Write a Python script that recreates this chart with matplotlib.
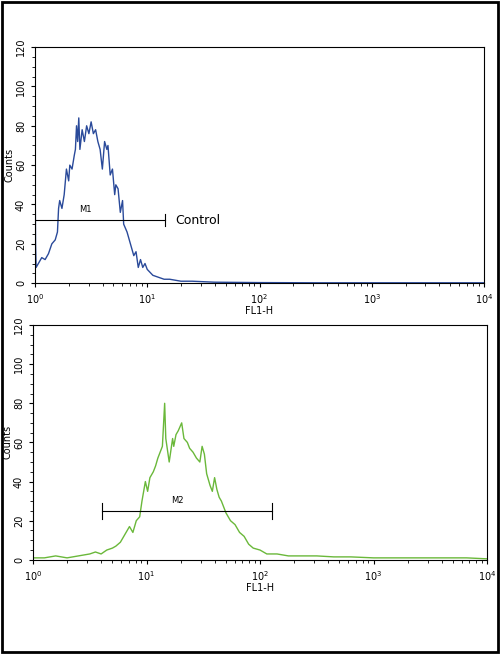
import matplotlib.pyplot as plt
from matplotlib.patches import Rectangle

# control histogram (log10 of FL1-H, counts)
ctrl_log = [0.0, 0.005, 0.01, 0.03, 0.06, 0.09, 0.12, 0.15, 0.18, 0.2, 0.21, 0.22, 0.24, 0.26,
            0.28, 0.3, 0.31, 0.33, 0.35, 0.36, 0.37, 0.38, 0.39, 0.4, 0.42, 0.44, 0.46, 0.48,
            0.5, 0.52, 0.54, 0.56, 0.58, 0.6, 0.62, 0.64, 0.65, 0.67, 0.69, 0.71, 0.72, 0.74,
            0.76, 0.78, 0.79, 0.82, 0.85, 0.88, 0.9, 0.92, 0.94, 0.96, 0.98, 1.0, 1.05, 1.1,
            1.15, 1.2, 1.3, 1.4, 1.6, 2.0, 2.5, 3.0, 3.5, 4.0]
ctrl_cnt = [63, 20, 8, 10, 13, 12, 15, 20, 22, 26, 38, 42, 38, 45,
            58, 52, 60, 58, 65, 68, 80, 72, 84, 68, 78, 72, 80, 76,
            82, 76, 78, 72, 68, 58, 72, 68, 70, 55, 58, 45, 50, 48,
            36, 42, 30, 26, 20, 14, 16, 8, 12, 8, 10, 7, 4, 3,
            2, 2, 1, 1, 0.5, 0.3, 0.2, 0.2, 0.2, 0.2]

# sample histogram
samp_log = [0.0, 0.1, 0.2, 0.3, 0.4, 0.5, 0.55, 0.6, 0.65, 0.7, 0.73, 0.77, 0.8, 0.83, 0.85,
            0.88, 0.91, 0.94, 0.96, 0.99, 1.01, 1.03, 1.06, 1.08, 1.1, 1.12, 1.14, 1.16, 1.17,
            1.18, 1.2, 1.21, 1.23, 1.24, 1.26, 1.28, 1.31, 1.33, 1.36, 1.38, 1.41, 1.44, 1.47,
            1.49, 1.51, 1.53, 1.56, 1.58, 1.6, 1.62, 1.64, 1.66, 1.7, 1.74, 1.78, 1.82, 1.86,
            1.9, 1.94, 2.0, 2.06, 2.15, 2.25, 2.35, 2.5, 2.65, 2.8, 3.0, 3.23, 3.4, 3.6, 3.82, 4.0]
samp_cnt = [1, 1, 2, 1, 2, 3, 4, 3, 5, 6, 7, 9, 12, 15, 17,
            14, 20, 22, 30, 40, 35, 42, 45, 48, 52, 55, 58, 80, 62,
            58, 50, 54, 62, 58, 64, 66, 70, 62, 60, 57, 55, 52, 50,
            58, 54, 44, 38, 35, 42, 36, 32, 30, 24, 20, 18, 14, 12,
            8, 6, 5, 3, 3, 2, 2, 2, 1.5, 1.5, 1, 1, 1, 1, 1, 0.5]

fig = plt.figure(figsize=(5, 6.54), dpi=100)
fig.patches.append(Rectangle((0.004, 0.003), 0.992, 0.994, transform=fig.transFigure,
                             fill=False, edgecolor='black', linewidth=2))


def style(ax):
    ax.set_xscale('log')
    ax.set_xlim(1, 1e4)
    ax.set_ylim(0, 120)
    ax.set_yticks(range(0, 121, 20))
    ax.set_yticks(range(0, 121, 5), minor=True)
    ax.tick_params(labelsize=7, length=3, direction='out')
    ax.tick_params(axis='y', labelrotation=90)
    ax.tick_params(which='minor', length=2)
    for lab in ax.get_yticklabels():
        lab.set_va('center')
    ax.set_xlabel('FL1-H', fontsize=7, labelpad=0)
    ax.set_ylabel('Counts', fontsize=7, labelpad=1)


ax1 = fig.add_axes([0.07, 0.567, 0.898, 0.361])
ax1.plot([10 ** v for v in ctrl_log], ctrl_cnt, color='#2a4a9a', lw=1)
ax1.plot([1.0, 10 ** 1.16], [32, 32], color='black', lw=0.8)
ax1.plot([10 ** 1.16] * 2, [29, 35], color='black', lw=0.8)
ax1.text(10 ** 0.45, 35, 'M1', fontsize=6, ha='center', va='bottom')
ax1.text(10 ** 1.25, 32, 'Control', fontsize=9, ha='left', va='center')
style(ax1)

ax2 = fig.add_axes([0.066, 0.144, 0.908, 0.359])
ax2.plot([10 ** v for v in samp_log], samp_cnt, color='#6ab83a', lw=1)
ax2.plot([10 ** 0.61, 10 ** 2.11], [25, 25], color='black', lw=0.8)
ax2.plot([10 ** 0.61] * 2, [21, 29], color='black', lw=0.8)
ax2.plot([10 ** 2.11] * 2, [21, 29], color='black', lw=0.8)
ax2.text(10 ** 1.27, 28, 'M2', fontsize=6, ha='center', va='bottom')
style(ax2)

fig.savefig('out.png', dpi=100)
